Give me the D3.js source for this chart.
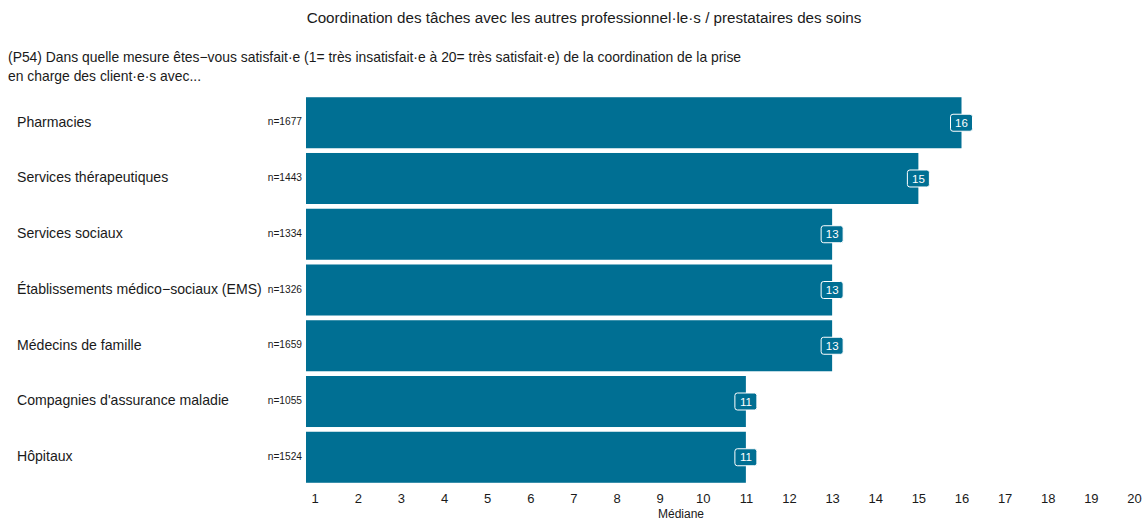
<!DOCTYPE html>
<html>
<head>
<meta charset="utf-8">
<script src="https://cdn.jsdelivr.net/npm/d3@7"></script>
<style>
  body { margin: 0; background: #fff; }
  svg { display: block; font-family: "Liberation Sans", Arial, sans-serif; }
</style>
</head>
<body>
<svg id="chart" width="1147" height="520"></svg>
<script>
// Satisfaction medians per partner type (1 = très insatisfait·e, 20 = très satisfait·e)
const categories = [
  "Pharmacies",
  "Services thérapeutiques",
  "Services sociaux",
  "Établissements médico\u2212sociaux (EMS)",
  "Médecins de famille",
  "Compagnies d'assurance maladie",
  "Hôpitaux"
];
const medians = [16, 15, 13, 13, 13, 11, 11];
const counts = [1677, 1443, 1334, 1326, 1659, 1055, 1524];
const tickValues = [1, 2, 3, 4, 5, 6, 7, 8, 9, 10, 11, 12, 13, 14, 15, 16, 17, 18, 19, 20];

const title = "Coordination des tâches avec les autres professionnel·le·s / prestataires des soins";
const subtitle = [
  "(P54) Dans quelle mesure êtes\u2212vous satisfait·e (1= très insatisfait·e à 20= très satisfait·e) de la coordination de la prise",
  "en charge des client·e·s avec..."
];
const axisTitle = "Médiane";

const barColor = "#006f93";
const rows = categories.map((c, i) => ({ cat: c, med: medians[i], n: counts[i] }));

const svg = d3.select("#chart");

const x = d3.scaleLinear().domain([0.8, 20]).range([306, 1134]);
const y = d3.scaleBand().domain(categories).range([95, 485]).paddingInner(0.085).paddingOuter(0.04);

// Title and question text
svg.append("text")
  .attr("x", 584).attr("y", 23)
  .attr("text-anchor", "middle")
  .attr("font-size", 15.2)
  .attr("fill", "#1a1a1a")
  .text(title);

svg.selectAll("text.sub").data(subtitle).join("text")
  .attr("class", "sub")
  .attr("x", 8)
  .attr("y", (d, i) => 62 + i * 19)
  .attr("font-size", 13.9)
  .attr("fill", "#1a1a1a")
  .text(d => d);

// Bars
svg.append("g").selectAll("rect").data(rows).join("rect")
  .attr("x", x(x.domain()[0]))
  .attr("y", d => y(d.cat))
  .attr("width", d => x(d.med) - x(x.domain()[0]))
  .attr("height", y.bandwidth())
  .attr("fill", barColor);

// Category labels
svg.append("g").selectAll("text").data(rows).join("text")
  .attr("x", 17)
  .attr("y", d => y(d.cat) + y.bandwidth() / 2 - 1)
  .attr("dy", "0.35em")
  .attr("font-size", 14.1)
  .attr("fill", "#1a1a1a")
  .text(d => d.cat);

// Sample sizes
svg.append("g").selectAll("text").data(rows).join("text")
  .attr("x", 302)
  .attr("y", d => y(d.cat) + y.bandwidth() / 2 - 1)
  .attr("dy", "0.35em")
  .attr("text-anchor", "end")
  .attr("font-size", 10.2)
  .attr("fill", "#1a1a1a")
  .text(d => "n=" + d.n);

// Value labels at bar ends
const lab = svg.append("g").selectAll("g").data(rows).join("g")
  .attr("transform", d => `translate(${x(d.med)},${y(d.cat) + y.bandwidth() / 2})`);
lab.append("rect")
  .attr("x", -11).attr("y", -8.5)
  .attr("width", 22).attr("height", 17)
  .attr("rx", 2.5)
  .attr("fill", barColor)
  .attr("stroke", "#ffffff")
  .attr("stroke-width", 1);
lab.append("text")
  .attr("text-anchor", "middle")
  .attr("dy", "0.36em")
  .attr("font-size", 11.5)
  .attr("fill", "#ffffff")
  .text(d => d.med);

// Bottom axis (labels only)
const axis = svg.append("g")
  .attr("transform", "translate(0,488)")
  .call(d3.axisBottom(x).tickValues(tickValues).tickSize(0).tickPadding(6).tickFormat(d3.format("d")));
axis.select(".domain").remove();
axis.selectAll("text")
  .attr("font-size", 13)
  .attr("fill", "#1a1a1a")
  .attr("font-family", "Liberation Sans, Arial, sans-serif");

svg.append("text")
  .attr("x", 681).attr("y", 518)
  .attr("text-anchor", "middle")
  .attr("font-size", 12)
  .attr("fill", "#1a1a1a")
  .text(axisTitle);
</script>
</body>
</html>
